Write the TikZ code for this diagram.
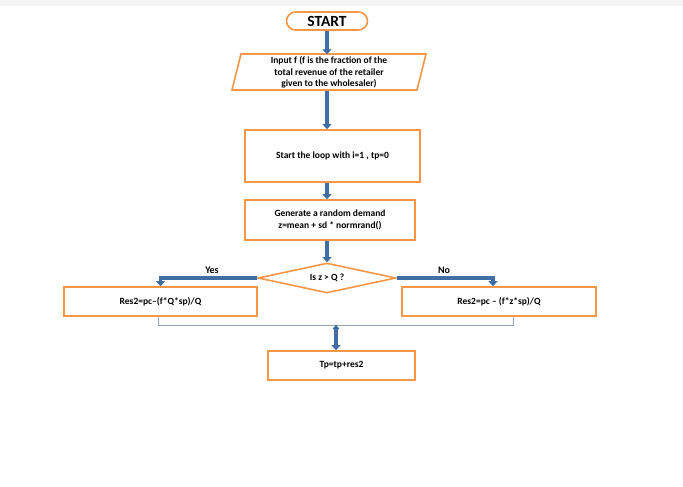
\documentclass[tikz,border=0pt]{standalone}
\usepackage{fontspec}
\setmainfont{Carlito}
\usetikzlibrary{shapes.geometric,arrows.meta}
\definecolor{orng}{HTML}{F79646}
\definecolor{ablue}{HTML}{3F6EA6}
\definecolor{thinc}{HTML}{8EA4B8}
\definecolor{topband}{HTML}{F4F4F4}
\tikzset{
  stepbox/.style={draw=orng, line width=1.6pt, fill=white, inner sep=0pt, align=center,
    font=\bfseries\fontsize{9.5}{11.5}\selectfont},
  mainarrow/.style={draw=ablue, line width=3.2pt, -{Triangle[width=9pt,length=5pt]}},
  dblarrow/.style={draw=ablue, line width=3.2pt, {Triangle[width=7pt,length=4pt]}-{Triangle[width=9pt,length=5pt]}},
  thinline/.style={draw=thinc, line width=0.8pt},
  lbl/.style={font=\bfseries\fontsize{10}{10}\selectfont, inner sep=0pt}
}
\begin{document}
\begin{tikzpicture}[x=1pt,y=-1pt]
\useasboundingbox (0,0) rectangle (683,487);
\fill[topband] (0,0) rectangle (683,6);
% nodes
\node[stepbox, rounded corners=9pt, minimum width=81pt, minimum height=18pt,
  font=\bfseries\fontsize{15.5}{15.5}\selectfont] (start) at (327,21) {START};
\draw[draw=orng, line width=1.6pt, line join=miter, fill=white]
  (241,54) -- (426,54) -- (417,90) -- (232,90) -- cycle;
\node[inner sep=0pt, minimum width=185pt, minimum height=36pt, align=center,
  font=\bfseries\fontsize{9.5}{11.5}\selectfont] (inp) at (329,72.5)
  {Input f (f is the fraction of the\\total revenue of the retailer\\given to the wholesaler)};
\node[stepbox, minimum width=175pt, minimum height=52pt] (loop) at (332.5,156) {Start the loop with i=1 , tp=0};
\node[stepbox, minimum width=170pt, minimum height=40pt] (gen) at (330,220) {Generate a random demand\\z=mean + sd * normrand()};
\node[stepbox, shape=diamond, aspect=4.6, minimum width=138pt, minimum height=30pt] (dia) at (327,278) {Is z > Q ?};
\node[stepbox, minimum width=193pt, minimum height=29pt] (left) at (160.5,301.5) {Res2=pc{\textendash}(f*Q*sp)/Q};
\node[stepbox, minimum width=194pt, minimum height=29pt] (right) at (499,301.5) {Res2=pc {\textendash} (f*z*sp)/Q};
\node[stepbox, minimum width=147pt, minimum height=29pt] (tp) at (341.5,365.5) {Tp=tp+res2};
\coordinate (merge) at (336,325);
% connectors
\draw[mainarrow] (start.south) -- (start.south |- inp.north);
\draw[mainarrow] (inp.south -| start.south) -- (start.south |- loop.north);
\draw[mainarrow] (loop.south -| start.south) -- (start.south |- gen.north);
\draw[mainarrow] (gen.south -| start.south) -- (dia.north);
\draw[mainarrow] (dia.west) -| (left.north);
\draw[mainarrow] (dia.east) -| ([xshift=-6pt]right.north);
\node[lbl] (yes) at (212,270.5) {Yes};
\node[lbl] (no) at (444,270.5) {No};
\draw[thinline] ([xshift=-2pt]left.south) |- (merge);
\draw[thinline] ([xshift=14pt]right.south) |- (merge);
\draw[dblarrow] (merge) -- (merge |- tp.north);
\end{tikzpicture}
\end{document}
